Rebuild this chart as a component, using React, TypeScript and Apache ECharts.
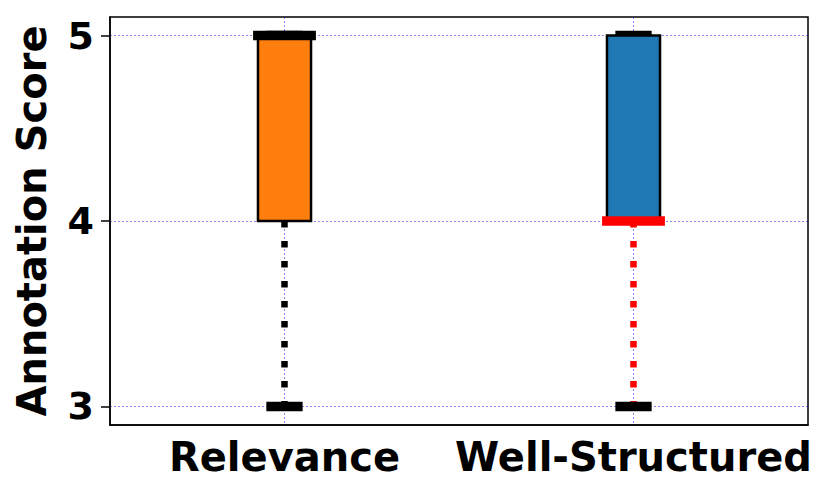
import React, { useEffect, useRef } from "react";
import * as echarts from "echarts";

const categories = ["Relevance", "Well-Structured"];
const minValues = [3, 3];
const q1Values = [4, 4];
const medianValues = [5, 4];
const q3Values = [5, 5];
const maxValues = [5, 5];
const boxColors = ["#ff7f0e", "#1f77b4"];
const medianColors = ["#000000", "#ff0000"];
const whiskerColors = ["#000000", "#ff0000"];
const yTicks = [3, 4, 5];

const FONT = "DejaVu Sans";
const GRID_COLOR = "rgba(0,0,255,0.6)";

export default function App() {
  const ref = useRef<HTMLDivElement>(null);
  useEffect(() => {
    if (!ref.current) return;
    const chart = echarts.init(ref.current, null, { renderer: "svg" });
    const data = categories.map((c, i) => [
      i,
      minValues[i],
      q1Values[i],
      medianValues[i],
      q3Values[i],
      maxValues[i],
    ]);
    const option: any = {
      animation: false,
      grid: {
        left: 110,
        right: 22,
        top: 17,
        bottom: 75,
        show: true,
        borderColor: "#000",
        borderWidth: 1.5,
        backgroundColor: "transparent",
      },
      xAxis: {
        type: "category",
        data: categories,
        boundaryGap: true,
        axisLine: { lineStyle: { color: "#000", width: 1.5 } },
        axisTick: { alignWithLabel: true, length: 8, lineStyle: { color: "#000", width: 1.5 } },
        axisLabel: {
          interval: 0,
          hideOverlap: false,
          color: "#000",
          fontFamily: FONT,
          fontWeight: "bold",
          fontSize: 40,
          margin: 12,
        },
        splitLine: { show: false },
      },
      yAxis: {
        type: "value",
        min: 2.9,
        max: 5.1,
        name: "Annotation Score",
        nameLocation: "middle",
        nameGap: 58,
        nameTextStyle: {
          color: "#000",
          fontFamily: FONT,
          fontWeight: "bold",
          fontSize: 40,
        },
        axisLine: { show: true, lineStyle: { color: "#000", width: 1.5 } },
        axisTick: { show: true, length: 9, customValues: yTicks, lineStyle: { color: "#000", width: 1.5 } },
        axisLabel: {
          customValues: yTicks,
          color: "#000",
          fontFamily: FONT,
          fontWeight: "bold",
          fontSize: 38,
          margin: 16,
        },
        splitLine: {
          show: true,
          lineStyle: { color: GRID_COLOR, width: 0.8, type: [2, 2] },
        },
      },
      series: [
        {
          type: "custom",
          data,
          encode: { x: 0, y: [1, 2, 3, 4, 5] },
          renderItem: (params: any, api: any) => {
            const i = api.value(0);
            const cs = params.coordSys;
            const band = api.size([1, 0])[0];
            const x = api.coord([i, api.value(3)])[0];
            const yMin = api.coord([i, api.value(1)])[1];
            const yQ1 = api.coord([i, api.value(2)])[1];
            const yMed = api.coord([i, api.value(3)])[1];
            const yQ3 = api.coord([i, api.value(4)])[1];
            const yMax = api.coord([i, api.value(5)])[1];
            const boxW = band * 0.152;
            const medW = band * 0.18;
            const capW = band * 0.104;
            const idx = params.dataIndex;
            return {
              type: "group",
              children: [
                {
                  type: "line",
                  shape: { x1: x, y1: cs.y, x2: x, y2: cs.y + cs.height },
                  style: { stroke: GRID_COLOR, lineWidth: 0.8, lineDash: [2, 2] },
                },
                {
                  type: "line",
                  shape: { x1: x, y1: yQ1, x2: x, y2: yMin },
                  style: { stroke: whiskerColors[idx], lineWidth: 6.5, lineDash: [6.5, 13.5], lineCap: "butt" },
                },
                {
                  type: "line",
                  shape: { x1: x, y1: yQ3, x2: x, y2: yMax },
                  style: { stroke: whiskerColors[idx], lineWidth: 6.5, lineDash: [6.5, 13.5], lineCap: "butt" },
                },
                {
                  type: "line",
                  shape: { x1: x - capW / 2, y1: yMin, x2: x + capW / 2, y2: yMin },
                  style: { stroke: "#000", lineWidth: 9.5, lineCap: "butt" },
                },
                {
                  type: "line",
                  shape: { x1: x - capW / 2, y1: yMax, x2: x + capW / 2, y2: yMax },
                  style: { stroke: "#000", lineWidth: 9.5, lineCap: "butt" },
                },
                {
                  type: "rect",
                  shape: { x: x - boxW / 2, y: yQ3, width: boxW, height: yQ1 - yQ3 },
                  style: { fill: boxColors[idx], stroke: "#000", lineWidth: 2.5 },
                },
                {
                  type: "line",
                  shape: { x1: x - medW / 2, y1: yMed, x2: x + medW / 2, y2: yMed },
                  style: { stroke: medianColors[idx], lineWidth: 9.5, lineCap: "butt" },
                },
              ],
            };
          },
        },
      ],
    };
    chart.setOption(option);
    return () => chart.dispose();
  }, []);
  return <div ref={ref} style={{ width: 830, height: 500, margin: -8 }} />;
}
